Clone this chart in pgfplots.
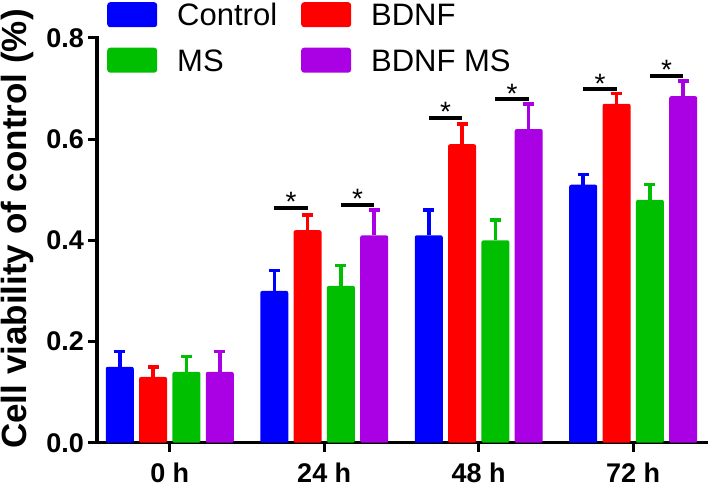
\documentclass[border=0pt]{standalone}
\usepackage{fontspec}
\setmainfont{Liberation Sans}
\usepackage{pgfplots}
\pgfplotsset{compat=1.18}
\definecolor{cBlue}{RGB}{0,0,255}
\definecolor{cRed}{RGB}{255,0,0}
\definecolor{cGreen}{RGB}{0,190,0}
\definecolor{cPurple}{RGB}{170,0,228}
\pgfplotsset{
  mybar/.style={ybar, bar width=28pt, bar shift=0pt, draw=none, rounded corners=2pt},
  myerr/.style={error bars/.cd, y dir=plus, y explicit,
     error bar style={line width=3.5pt, #1},
     error mark options={rotate=90, line width=3.5pt, mark size=5.5pt, #1}},
}
\begin{document}
\begin{tikzpicture}
\begin{axis}[
  scale only axis,
  width=611pt, height=404.7pt,
  xmin=-0.471, xmax=3.484,
  ymin=0, ymax=0.8,
  axis x line*=bottom,
  axis y line*=left,
  axis line style={line width=3.5pt, line cap=rect},
  xtick={0,1,2,3},
  xticklabels={0 h,24 h,48 h,72 h},
  ytick={0,0.2,0.4,0.6,0.8},
  tick align=outside,
  major tick length=9pt,
  tick style={line width=3pt, black},
  /pgf/number format/assume math mode=true,
  yticklabel style={/pgf/number format/fixed, /pgf/number format/fixed zerofill, /pgf/number format/precision=1,
     font=\fontsize{27}{32}\selectfont\bfseries, inner sep=0pt, xshift=-4pt},
  xticklabel style={font=\fontsize{27}{32}\selectfont\bfseries, inner sep=0pt, yshift=-11pt},
  ylabel={Cell viability of control (\%)},
  ylabel style={at={(rel axis cs:-0.1295,0.528)}, anchor=center, font=\fontsize{35}{40}\selectfont\bfseries},
  legend columns=2,
  legend cell align=left,
  legend style={at={(rel axis cs:0.0164,1.089)}, anchor=north west, draw=none, fill=none,
     font=\fontsize{31}{37}\selectfont, inner sep=0pt, row sep=20.5pt,
     nodes={inner sep=0pt, text height=22pt, text depth=0pt},
     /tikz/every odd column/.append style={column sep=20pt},
     /tikz/every even column/.append style={column sep=24pt}},
  legend image code/.code={\fill[#1, rounded corners=3pt] (0pt,-12.5pt) rectangle (50pt,12.5pt);},
  clip=false,
]
\addplot[mybar, fill=cBlue, myerr=cBlue] coordinates {
 (-0.3236,0.15) +- (0,0.03)
 (0.6764,0.30) +- (0,0.04)
 (1.6764,0.41) +- (0,0.05)
 (2.6764,0.51) +- (0,0.02)
};
\addlegendentry{Control}
\addplot[mybar, fill=cRed, myerr=cRed] coordinates {
 (-0.1079,0.13) +- (0,0.02)
 (0.8921,0.42) +- (0,0.03)
 (1.8921,0.59) +- (0,0.04)
 (2.8921,0.67) +- (0,0.02)
};
\addlegendentry{BDNF}
\addplot[mybar, fill=cGreen, myerr=cGreen] coordinates {
 (0.1079,0.14) +- (0,0.03)
 (1.1079,0.31) +- (0,0.04)
 (2.1079,0.40) +- (0,0.04)
 (3.1079,0.48) +- (0,0.03)
};
\addlegendentry{MS}
\addplot[mybar, fill=cPurple, myerr=cPurple] coordinates {
 (0.3236,0.14) +- (0,0.04)
 (1.3236,0.41) +- (0,0.05)
 (2.3236,0.62) +- (0,0.05)
 (3.3236,0.685) +- (0,0.03)
};
\addlegendentry{BDNF MS}
% significance lines
\addplot[black, line width=3.5pt, forget plot] coordinates {(0.677,0.464) (0.892,0.464)};
\addplot[black, line width=3.5pt, forget plot] coordinates {(1.108,0.470) (1.323,0.470)};
\addplot[black, line width=3.5pt, forget plot] coordinates {(1.677,0.642) (1.892,0.642)};
\addplot[black, line width=3.5pt, forget plot] coordinates {(2.108,0.679) (2.323,0.679)};
\addplot[black, line width=3.5pt, forget plot] coordinates {(2.677,0.699) (2.892,0.699)};
\addplot[black, line width=3.5pt, forget plot] coordinates {(3.108,0.725) (3.323,0.725)};
\foreach \xx/\yy in {0.785/0.464, 1.215/0.470, 1.785/0.642, 2.215/0.679, 2.785/0.699, 3.215/0.725}{
  \edef\tmp{\noexpand\node[anchor=base, inner sep=0pt, yshift=-4pt, font=\noexpand\fontsize{28}{30}\noexpand\selectfont] at (axis cs:\xx,\yy) {*};}
  \tmp
}
\coordinate (BL) at (rel axis cs:0,0);
\coordinate (TR) at (rel axis cs:1,1);
\end{axis}
\pgfresetboundingbox
\path ([xshift=-97pt,yshift=-45.3pt]BL) rectangle ([yshift=38pt]TR);
\end{tikzpicture}
\end{document}
